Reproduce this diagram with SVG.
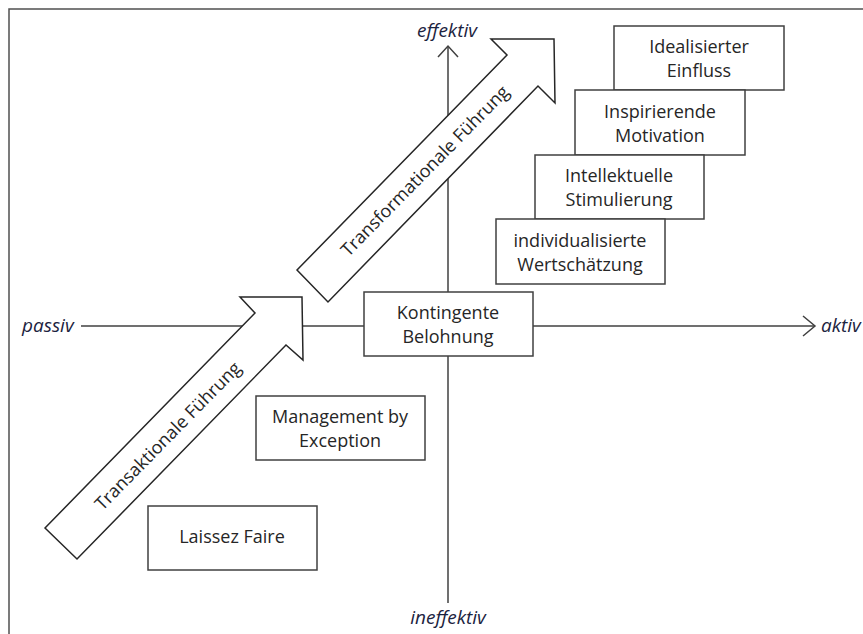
<svg xmlns="http://www.w3.org/2000/svg" width="863" height="634" viewBox="0 0 863 634">
<style>
.box{fill:#fff;stroke:#404040;stroke-width:1.5}
.bt{font-family:"Open Sans","Liberation Sans",Arial,sans-serif;font-size:18px;fill:#262626;text-anchor:middle}
.ax{font-family:"Open Sans","Liberation Sans",Arial,sans-serif;font-size:19px;font-style:italic;fill:#1c2340}
.line{stroke:#404040;stroke-width:1.5;fill:none}
.big{fill:#fff;stroke:#262626;stroke-width:1.5;stroke-linejoin:miter}
</style>
<rect x="0" y="0" width="863" height="634" fill="#fff"/>
<rect x="9" y="9" width="900" height="700" fill="none" stroke="#505050" stroke-width="1.5"/>
<g id="connectors">
<line class="line" x1="448" y1="46" x2="448" y2="603"/>
<polyline class="line" points="438,57 448,46 458,57"/>
<line class="line" x1="81" y1="326" x2="815" y2="326"/>
<polyline class="line" points="803,316 815,326 803,336"/>
</g>
<g id="axis-labels">
<text class="ax" x="447" y="37" text-anchor="middle">effektiv</text>
<text class="ax" x="448" y="624" text-anchor="middle">ineffektiv</text>
<text class="ax" x="22" y="332">passiv</text>
<text class="ax" x="821" y="332">aktiv</text>
</g>
<g id="transaktional">
<polygon class="big" points="45,528 255,313 240,297 302,297 303,360 286,345 77,559"/>
<text class="bt" transform="translate(168,436) rotate(-45.5)" dy="6">Transaktionale Führung</text>
</g>
<g id="transformational">
<polygon class="big" points="297,270 507,55 491,39 554,39 555,103 538,86 328,302"/>
<text class="bt" transform="translate(425,171) rotate(-45.5)" dy="6">Transformationale Führung</text>
</g>
<g id="idealisiert">
<rect class="box" x="614" y="26" width="170" height="64"/>
<text class="bt" x="699" y="53">Idealisierter</text>
<text class="bt" x="699" y="77">Einfluss</text>
</g>
<g id="inspirierend">
<rect class="box" x="575" y="90" width="170" height="65"/>
<text class="bt" x="660" y="118">Inspirierende</text>
<text class="bt" x="660" y="142">Motivation</text>
</g>
<g id="intellektuell">
<rect class="box" x="535" y="155" width="169" height="64"/>
<text class="bt" x="619" y="182">Intellektuelle</text>
<text class="bt" x="619" y="206">Stimulierung</text>
</g>
<g id="individualisiert">
<rect class="box" x="496" y="219" width="169" height="65"/>
<text class="bt" x="580" y="247">individualisierte</text>
<text class="bt" x="580" y="271">Wertschätzung</text>
</g>
<g id="kontingent">
<rect class="box" x="364" y="292" width="169" height="64"/>
<text class="bt" x="448" y="319">Kontingente</text>
<text class="bt" x="448" y="343">Belohnung</text>
</g>
<g id="management">
<rect class="box" x="256" y="396" width="169" height="64"/>
<text class="bt" x="340" y="423">Management by</text>
<text class="bt" x="340" y="447">Exception</text>
</g>
<g id="laissez">
<rect class="box" x="148" y="506" width="169" height="64"/>
<text class="bt" x="232" y="543">Laissez Faire</text>
</g>
</svg>
